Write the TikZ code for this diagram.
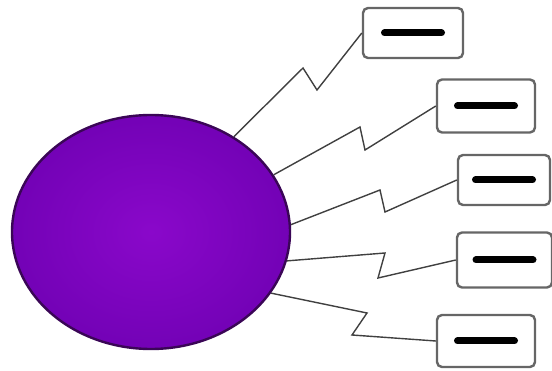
\documentclass[tikz,border=0pt]{standalone}
\usetikzlibrary{shapes.geometric}
\definecolor{ballin}{HTML}{8A08CA}
\definecolor{ballout}{HTML}{7302B6}
\definecolor{balledge}{HTML}{3A0656}
\definecolor{wire}{HTML}{404040}
\definecolor{boxedge}{HTML}{666666}
\tikzset{
  ball/.style={ellipse, draw=balledge, line width=2.4pt, inner color=ballin, outer color=ballout, minimum width=278pt, minimum height=234pt, inner sep=0pt},
  minusbox/.style={draw=boxedge, line width=2.4pt, rounded corners=5pt, fill=white, inner sep=0pt, minimum height=50pt, minimum width=98pt},
  zig/.style={draw=wire, line width=1.4pt, line join=miter}
}
\newcommand{\minusbar}{\tikz\draw[line width=7pt, line cap=round] (0,0) -- (57pt,0);}
\begin{document}
\begin{tikzpicture}[x=1pt,y=-1pt]
\useasboundingbox (0,0) rectangle (552,371);
\node[ball] (e) at (151,232) {};
\node[minusbox, minimum width=100pt] (b1) at (413,33) {\minusbar};
\node[minusbox, minimum height=53pt] (b2) at (486,106) {\minusbar};
\node[minusbox, minimum width=92pt] (b3) at (504,180) {\minusbar};
\node[minusbox, minimum width=95pt, minimum height=55pt] (b4) at (504.5,260) {\minusbar};
\node[minusbox, minimum height=52pt] (b5) at (486,341) {\minusbar};
% zigzag bends
\coordinate (a1) at (303,68);  \coordinate (c1) at (317,90);
\coordinate (a2) at (360,127); \coordinate (c2) at (365,150);
\coordinate (a3) at (380,190); \coordinate (c3) at (385,212);
\coordinate (a4) at (385,253); \coordinate (c4) at (378,278);
\coordinate (a5) at (367,313); \coordinate (c5) at (352,335);
\draw[zig] (e.49) -- (a1) -- (c1) -- (b1.west);
\draw[zig] (e.25) -- (a2) -- (c2) -- (b2.west);
\draw[zig] (e.3) -- (a3) -- (c3) -- (b3.west);
\draw[zig] (e.-12) -- (a4) -- (c4) -- (b4.west);
\draw[zig] (e.-27) -- (a5) -- (c5) -- (b5.west);
\end{tikzpicture}
\end{document}
